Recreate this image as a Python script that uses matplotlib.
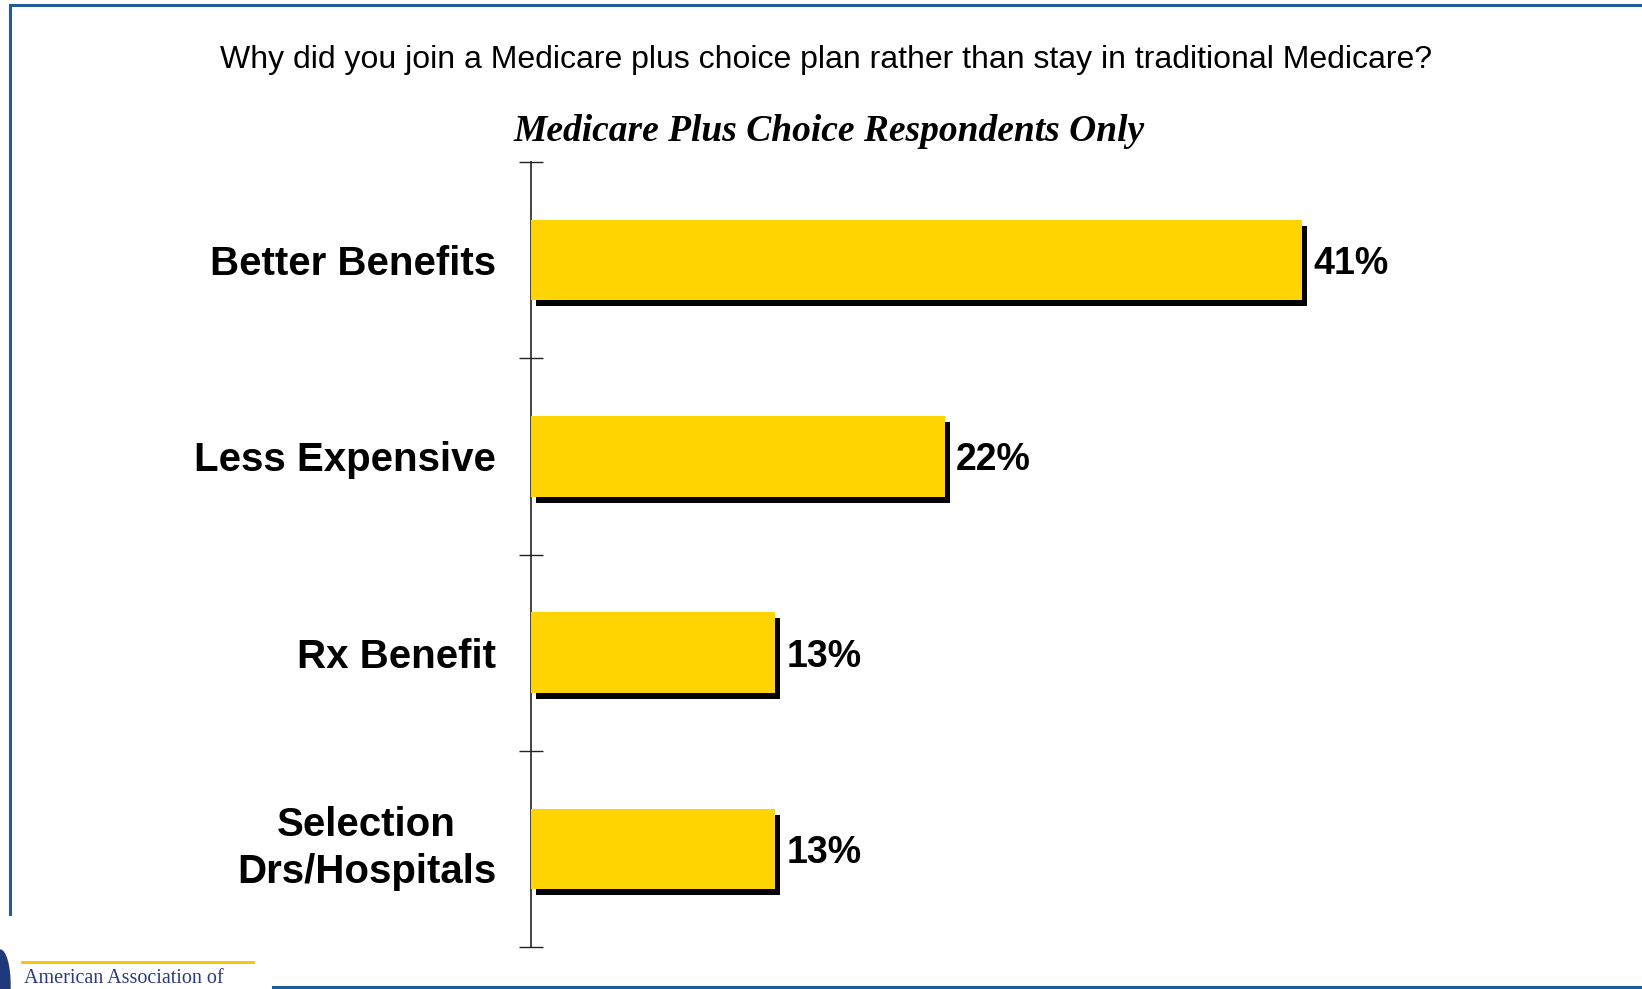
import matplotlib.pyplot as plt
import matplotlib.patheffects as pe
from matplotlib.lines import Line2D
from matplotlib.patches import Ellipse

# survey data
categories = ['Better Benefits', 'Less Expensive', 'Rx Benefit', 'Selection\nDrs/Hospitals']
values = [41, 22, 13, 13]

title = 'Why did you join a Medicare plus choice plan rather than stay in traditional Medicare?'
subtitle = 'Medicare Plus Choice Respondents Only'

W, H = 1642, 989
fig = plt.figure(figsize=(W / 100, H / 100), dpi=100)
fig.patch.set_facecolor('white')

# axes placed in pixel terms
ax = fig.add_axes([531 / W, 1 - 947 / H, 1034 / W, (947 - 162) / H])
ax.set_xlim(0, 55)
ax.set_ylim(len(categories) - 0.5, -0.5)

ypos = list(range(len(categories)))
bars = ax.barh(ypos, values, height=0.41, color='#FFD400', edgecolor='none', zorder=3)
for b in bars:
    b.set_path_effects([pe.SimplePatchShadow(offset=(3.6, -4.3), shadow_rgbFace='black', alpha=1.0),
                        pe.Normal()])

for y, v in zip(ypos, values):
    ax.annotate(f'{v}%', (v, y), xytext=(8, 0), textcoords='offset points',
                ha='left', va='center_baseline', fontsize=27, fontweight='bold',
                family='Liberation Sans', color='black')

# spines / ticks
for s in ['top', 'right', 'bottom']:
    ax.spines[s].set_visible(False)
ax.spines['left'].set_color('#222222')
ax.spines['left'].set_linewidth(1.2)
ax.set_xticks([])
ax.set_yticks([i - 0.5 for i in range(len(categories) + 1)])
ax.set_yticklabels([])
ax.tick_params(axis='y', which='major', direction='inout', length=17, width=1.0, color='#222222')
ax.set_yticks(ypos, minor=True)
ax.set_yticklabels(categories, minor=True)
ax.tick_params(axis='y', which='minor', length=0, pad=25)
for lbl in ax.get_yticklabels(minor=True):
    lbl.set_fontsize(29)
    lbl.set_fontweight('bold')
    lbl.set_family('Liberation Sans')
    lbl.set_multialignment('center')
    lbl.set_linespacing(1.3)
    if '\n' in lbl.get_text():
        lbl.set_verticalalignment('center')

# titles
fig.text(826 / W, 1 - 60 / H, title, ha='center', va='center', fontsize=23,
         family='Liberation Sans', color='black')
fig.text(829 / W, 1 - 131 / H, subtitle, ha='center', va='center', fontsize=27,
         family='Liberation Serif', fontweight='bold', fontstyle='italic', color='black')

# slide frame
frame_col = '#1F5C99'
fig.add_artist(Line2D([10 / W, 1], [1 - 5 / H, 1 - 5 / H], color=frame_col, lw=2.2))
fig.add_artist(Line2D([10 / W, 10 / W], [1 - 5 / H, 1 - 914 / H], color=frame_col, lw=2.2))
fig.add_artist(Line2D([273 / W, 1], [1 - 987 / H, 1 - 987 / H], color=frame_col, lw=2.2))

# logo fragment
fig.add_artist(Line2D([22 / W, 253 / W], [1 - 962 / H, 1 - 962 / H], color='#F5C400', lw=2))
fig.add_artist(Ellipse((0 / W, 1 - 985 / H), 20 / W, 70 / H, color='#1E3A7A'))
fig.text(24 / W, 1 - 983 / H, 'American Association of', ha='left', va='baseline',
         fontsize=14.5, family='Liberation Serif', color='#2B3A80')

fig.savefig('out.png', dpi=100, facecolor='white')
